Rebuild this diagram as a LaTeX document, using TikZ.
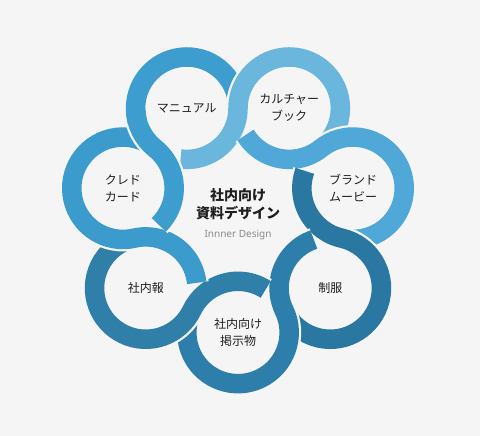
\documentclass[tikz,border=0pt]{standalone}
\usepackage{fontspec}
\setmainfont{Noto Sans}
\newfontfamily\jp{Noto Sans CJK JP}
\definecolor{bgc}{HTML}{F5F5F5}
\definecolor{cM}{HTML}{3C9DCE}
\definecolor{cK}{HTML}{6AB6DD}
\definecolor{cB}{HTML}{4FA8D7}
\definecolor{cU}{HTML}{2A78A1}
\definecolor{cP}{HTML}{2D7EAA}
\definecolor{cN}{HTML}{2F7FA9}
\definecolor{cC}{HTML}{3B9BCC}
\definecolor{txt}{HTML}{1E1E1E}
\definecolor{sub}{HTML}{8A8A8A}
\newcommand\ringR{118}
\newcommand\ringr{51.2}
% #1 = angle of previous circle, #2 = colour, #3 = arc of border on own circle, #4 = arc of colour on own circle
\newcommand\ringpiece[4]{%
  \pgfmathsetmacro\aS{#1-115.714-97}%
  \pgfmathsetmacro\aT{#1-115.714}%
  \pgfmathsetmacro\bS{\aT+180}%
  \pgfmathsetmacro\bE{\bS-#3}%
  \pgfmathsetmacro\bF{\bS-#4}%
  \draw[bgc, line width=24pt] ([shift={(#1:\ringR pt)}]O) ++(\aS:\ringr pt)
     arc[start angle=\aS, end angle=\aT, radius=\ringr pt]
     arc[start angle=\bS, end angle=\bE, radius=\ringr pt];
  \draw[#2, line width=19.5pt] ([shift={(#1:\ringR pt)}]O) ++(\aS:\ringr pt)
     arc[start angle=\aS, end angle=\aT, radius=\ringr pt]
     arc[start angle=\bS, end angle=\bF, radius=\ringr pt];
}
\begin{document}
\begin{tikzpicture}[x=1pt,y=1pt,
  lbl/.style={font=\jp\fontsize{12}{17}\selectfont, text=txt, align=center, inner sep=0pt},
  ttl/.style={font=\jp\bfseries\fontsize{14}{18}\selectfont, text=txt, align=center, inner sep=0pt},
  subt/.style={font=\fontsize{10}{12}\selectfont, text=sub, inner sep=0pt}]
\fill[bgc] (0,0) rectangle (480,436);
\useasboundingbox (0,0) rectangle (480,436);
\coordinate (O) at (238,221.5);
% pieces in order
\ringpiece{167.143}{cM}{231.43}{231.43}
\ringpiece{115.714}{cK}{231.43}{231.43}
\ringpiece{64.286}{cB}{231.43}{231.43}
\ringpiece{12.857}{cU}{231.43}{231.43}
\ringpiece{-38.571}{cP}{231.43}{231.43}
\ringpiece{-90}{cN}{231.43}{231.43}
\ringpiece{-141.429}{cC}{231.43}{231.43}
% start of the first piece again, on top of the last
\ringpiece{167.143}{cM}{35}{50}
% labels
\node[lbl] (manual) at ([shift={(115.714:\ringR pt)}]O) {マニュアル};
\node[lbl] (culture) at ([shift={(64.286:\ringR pt)}]O) {カルチャー\\ブック};
\node[lbl] (brand) at ([shift={(12.857:\ringR pt)}]O) {ブランド\\ムービー};
\node[lbl] (uniform) at ([shift={(-38.571:\ringR pt)}]O) {制服};
\node[lbl] (poster) at ([shift={(-90:\ringR pt)}]O) {社内向け\\掲示物};
\node[lbl] (news) at ([shift={(-141.429:\ringR pt)}]O) {社内報};
\node[lbl] (credo) at ([shift={(167.143:\ringR pt)}]O) {クレド\\カード};
\node[ttl] (title) at (238,232) {社内向け\\資料デザイン};
\node[subt] (design) at (238,201) {Innner Design};
\end{tikzpicture}
\end{document}
